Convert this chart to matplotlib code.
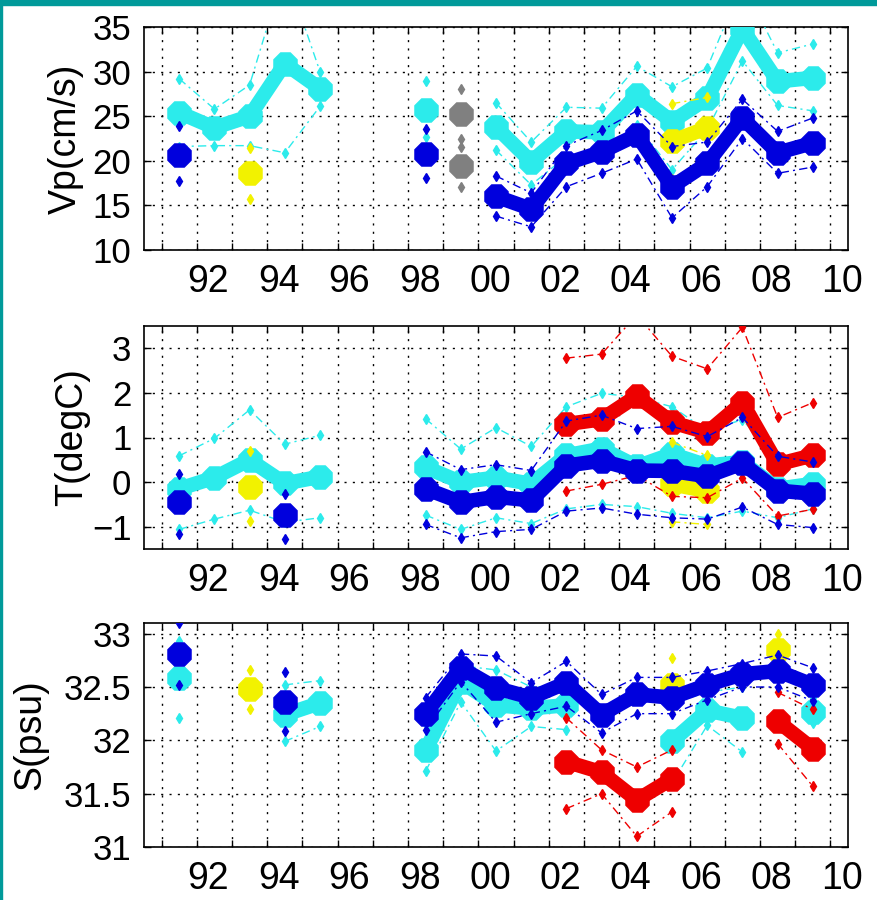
import numpy as np
import matplotlib
matplotlib.use("Agg")
import matplotlib.pyplot as plt
from matplotlib.patches import Rectangle

n = np.nan
years = np.arange(1991.5, 2010.0, 1.0)  # 1991.5 ... 2009.5

# ---- Vp (cm/s) ----
vp_cyan    = [25.4, 23.7, 25.0, 30.9, 28.1, n, n, 25.7, n, 23.8, 19.9, 23.3, 23.2, 27.4, 24.4, 27.0, 34.8, 28.9, 29.3]
vp_cyan_hi = [29.2, 25.8, 28.5, 41.5, 30.0, n, n, 29.0, n, 26.5, 22.1, 26.0, 25.9, 30.6, 28.3, 30.4, 40.0, 32.1, 33.1]
vp_cyan_lo = [21.6, 21.7, 21.7, 20.9, 26.1, n, n, 22.7, n, 21.2, 17.3, 20.5, 20.6, 24.0, 19.0, 23.5, 31.2, 26.2, 25.6]
vp_blue    = [20.7, n, n, n, n, n, n, 20.8, n, 16.0, 14.6, 19.7, 21.0, 22.9, 17.1, 19.7, 24.8, 20.9, 22.0]
vp_blue_hi = [23.9, n, n, n, n, n, n, 23.6, n, 18.3, 16.4, 21.7, 23.4, 25.6, 21.6, 22.1, 26.9, 23.3, 24.8]
vp_blue_lo = [17.7, n, n, n, n, n, n, 18.1, n, 13.8, 12.6, 17.1, 18.6, 20.2, 13.6, 17.1, 22.5, 18.6, 19.3]
vp_yel     = [n, n, 18.6, n, n, n, n, n, n, n, n, n, n, n, 22.2, 23.7, n, n, n]
vp_yel_hi  = [n, n, 21.4, n, n, n, n, n, n, n, n, n, n, n, 26.4, 27.1, n, n, n]
vp_yel_lo  = [n, n, 15.7, n, n, n, n, n, n, n, n, n, n, n, 18.0, 20.3, n, n, n]
gray_x     = [1999.5, 1999.5]
vp_gray    = [25.3, 19.4]
vp_gray_hi = [28.1, 21.6]
vp_gray_lo = [22.4, 17.1]

# ---- T (degC) ----
t_cyan    = [-0.15, 0.10, 0.50, -0.03, 0.12, n, n, 0.33, 0.00, 0.10, -0.04, 0.60, 0.75, 0.35, 0.63, 0.37, 0.45, -0.15, -0.04]
t_cyan_hi = [0.59, 0.98, 1.62, 0.85, 1.05, n, n, 1.42, 0.74, 1.22, 0.80, 1.69, 1.99, 1.90, 1.69, 1.15, 1.40, 0.50, 0.55]
t_cyan_lo = [-1.06, -0.83, -0.63, -0.90, -0.80, n, n, -0.74, -1.06, -0.80, -0.93, -0.60, -0.50, -0.55, -0.70, -0.80, -0.65, -0.80, -0.60]
t_blue    = [-0.45, n, n, -0.74, n, n, n, -0.15, -0.45, -0.33, -0.41, 0.37, 0.48, 0.26, 0.25, 0.13, 0.42, -0.19, -0.26]
t_blue_hi = [0.18, n, n, -0.26, n, n, n, 0.68, 0.28, 0.39, 0.26, 1.37, 1.50, 1.20, 1.25, 1.02, 1.45, 0.58, 0.45]
t_blue_lo = [-1.17, n, n, -1.28, n, n, n, -0.95, -1.25, -1.11, -1.06, -0.65, -0.58, -0.72, -0.80, -0.83, -0.56, -0.95, -1.02]
t_red     = [n, n, n, n, n, n, n, n, n, n, n, 1.30, 1.41, 1.93, 1.34, 1.11, 1.78, 0.40, 0.60]
t_red_hi  = [n, n, n, n, n, n, n, n, n, n, n, 2.78, 2.87, 3.75, 2.82, 2.54, 3.47, 1.45, 1.78]
t_red_lo  = [n, n, n, n, n, n, n, n, n, n, n, -0.20, -0.05, 0.15, -0.32, -0.35, 0.09, -0.76, -0.61]
t_yel     = [n, n, -0.11, n, n, n, n, n, n, n, n, n, n, n, -0.05, -0.20, n, n, n]
t_yel_hi  = [n, n, 0.70, n, n, n, n, n, n, n, n, n, n, n, 0.89, 0.60, n, n, n]
t_yel_lo  = [n, n, -0.87, n, n, n, n, n, n, n, n, n, n, n, -0.89, -0.95, n, n, n]

# ---- S (psu) ----
s_cyan    = [32.58, n, n, 32.24, 32.35, n, n, 31.91, 32.55, 32.33, 32.30, 32.33, n, n, 31.99, 32.28, 32.21, n, 32.27]
s_cyan_hi = [32.93, n, n, 32.52, 32.56, n, n, 32.15, 32.70, 32.66, 32.50, 32.50, n, n, 32.35, 32.45, 32.50, n, 32.40]
s_cyan_lo = [32.21, n, n, 31.99, 32.13, n, n, 31.71, 32.36, 31.90, 32.13, 32.10, n, n, 31.60, 32.14, 31.89, n, 32.16]
s_blue    = [32.81, n, n, 32.36, n, n, n, 32.25, 32.68, 32.49, 32.40, 32.54, 32.24, 32.43, 32.40, 32.52, 32.62, 32.65, 32.52]
s_blue_hi = [33.10, n, n, 32.64, n, n, n, 32.40, 32.81, 32.79, 32.54, 32.74, 32.43, 32.59, 32.59, 32.65, 32.72, 32.80, 32.68]
s_blue_lo = [32.52, n, n, 32.09, n, n, n, 32.10, 32.55, 32.17, 32.25, 32.32, 32.07, 32.25, 32.25, 32.38, 32.50, 32.50, 32.37]
s_red     = [n, n, n, n, n, n, n, n, n, n, n, 31.80, 31.70, 31.44, 31.64, n, n, 32.18, 31.92]
s_red_hi  = [n, n, n, n, n, n, n, n, n, n, n, 32.21, 31.91, 31.75, 31.91, n, n, 32.45, 32.29]
s_red_lo  = [n, n, n, n, n, n, n, n, n, n, n, 31.36, 31.50, 31.10, 31.33, n, n, 31.97, 31.57]
s_yel     = [n, n, 32.48, n, n, n, n, n, n, n, n, n, n, n, 32.52, n, n, 32.85, n]
s_yel_hi  = [n, n, 32.66, n, n, n, n, n, n, n, n, n, n, n, 32.77, n, n, 33.00, n]
s_yel_lo  = [n, n, 32.29, n, n, n, n, n, n, n, n, n, n, n, 32.30, n, n, 32.70, n]

xlabels = ["92", "94", "96", "98", "00", "02", "04", "06", "08", "10"]

CYAN, BLUE, YEL, RED, GRAY = "#2cebeb", "#0000dd", "#f2f200", "#ee0000", "#808080"
TEAL = "#009a9a"
octagon = (8, 0, 22.5)
thin_ls = (0, (6, 3, 1.5, 3))


def plot_series(ax, x, mean, hi, lo, color, z, connect=True):
    ax.plot(x, mean, color=color, lw=10.5, ls="-" if connect else "none",
            marker=octagon, ms=18, solid_joinstyle="round", zorder=z)
    for v in (hi, lo):
        ax.plot(x, v, color=color, lw=1.0, ls=thin_ls if connect else "none",
                marker="d", ms=5.5, zorder=z + 0.1)


fig = plt.figure(figsize=(8.78, 9.0), dpi=100)
plt.rcParams["font.family"] = ["Liberation Sans", "DejaVu Sans"]

left, width = 144 / 878, 704 / 878
boxes = [(27, 250), (326, 549), (623, 847)]
axes = [fig.add_axes([left, 1 - b / 900, width, (b - t) / 900]) for t, b in boxes]
ax1, ax2, ax3 = axes

plot_series(ax1, years, vp_cyan, vp_cyan_hi, vp_cyan_lo, CYAN, 3)
plot_series(ax1, years, vp_yel, vp_yel_hi, vp_yel_lo, YEL, 4)
plot_series(ax1, gray_x, vp_gray, vp_gray_hi, vp_gray_lo, GRAY, 5, connect=False)
plot_series(ax1, years, vp_blue, vp_blue_hi, vp_blue_lo, BLUE, 6)

plot_series(ax2, years, t_cyan, t_cyan_hi, t_cyan_lo, CYAN, 3)
plot_series(ax2, years, t_yel, t_yel_hi, t_yel_lo, YEL, 4)
plot_series(ax2, years, t_red, t_red_hi, t_red_lo, RED, 5)
plot_series(ax2, years, t_blue, t_blue_hi, t_blue_lo, BLUE, 6)

plot_series(ax3, years, s_cyan, s_cyan_hi, s_cyan_lo, CYAN, 3)
plot_series(ax3, years, s_yel, s_yel_hi, s_yel_lo, YEL, 4)
plot_series(ax3, years, s_red, s_red_hi, s_red_lo, RED, 5)
plot_series(ax3, years, s_blue, s_blue_hi, s_blue_lo, BLUE, 6)

ax1.set_ylim(10, 35)
ax1.set_yticks([10, 15, 20, 25, 30, 35])
ax2.set_ylim(-1.5, 3.5)
ax2.set_yticks([-1, 0, 1, 2, 3])
ax3.set_ylim(31, 33.1)
ax3.set_yticks([31, 31.5, 32, 32.5, 33])
ax3.set_yticklabels(["31", "31.5", "32", "32.5", "33"])

ylabels = [("Vp(cm/s)", -0.085), ("T(degC)", -0.077), ("S(psu)", -0.136)]
for ax, (lab, lx) in zip(axes, ylabels):
    ax.set_xlim(1990.5, 2010.5)
    ax.set_xticks(np.arange(1991, 2011))
    ax.set_xticklabels([])
    ax.set_xticks(np.arange(1992, 2011, 2) + 0.33, xlabels, minor=True)
    ax.tick_params(which="major", direction="in", length=5, width=1,
                   top=True, right=True, labelsize=25, pad=9)
    ax.tick_params(axis="x", which="minor", length=0, labelsize=27, pad=10)
    ax.grid(True, which="major", color="black", lw=1.0, ls=(0, (1.5, 4.5)))
    ax.set_axisbelow(True)
    for sp in ax.spines.values():
        sp.set_linewidth(1.2)
    ax.set_ylabel(lab, fontsize=27)
    ax.yaxis.set_label_coords(lx, 0.5)

# teal frame of the original slide
fig.patches.append(Rectangle((0, 1 - 5 / 900), 1, 5 / 900, transform=fig.transFigure,
                             color=TEAL, zorder=10))
fig.patches.append(Rectangle((0, 0), 2 / 878, 1, transform=fig.transFigure,
                             color=TEAL, zorder=10))

fig.savefig("out.png", dpi=100)
